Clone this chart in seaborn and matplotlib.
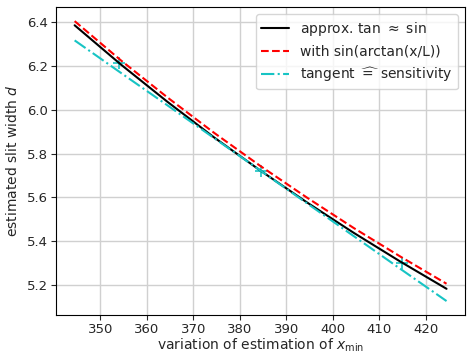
import matplotlib
matplotlib.use("Agg")
import matplotlib.pyplot as plt
import seaborn as sns
import pandas as pd

# values
x_vals = [344.5, 354.5, 364.5, 374.5, 384.5, 394.5, 404.5, 414.5, 424.5]
d_approx = [6.386, 6.206, 6.036, 5.874, 5.722, 5.577, 5.439, 5.308, 5.183]
d_arctan = [6.405, 6.225, 6.056, 5.895, 5.743, 5.599, 5.461, 5.331, 5.206]
d_tangent = [6.317, 6.168, 6.020, 5.871, 5.722, 5.573, 5.424, 5.275, 5.127]
marker_x = [354.0, 384.5, 415.0]
marker_y = [6.215, 5.722, 5.301]

labels = ["approx. tan $\\approx$ sin",
          "with sin(arctan(x/L))",
          "tangent $\\widehat{=}$ sensitivity"]

sns.set_style("ticks", {"axes.grid": True, "grid.color": "#d0d0d0",
                        "axes.edgecolor": "black"})
plt.rcParams['font.family'] = ['DejaVu Sans']
plt.rcParams['font.size'] = 10

fig = plt.figure(figsize=(4.67, 3.56), dpi=100)
ax = fig.add_axes([0.12, 0.115, 0.876, 0.865])

df = pd.DataFrame({"x": x_vals, "approx": d_approx,
                   "arctan": d_arctan, "tangent": d_tangent})

sns.lineplot(data=df, x="x", y="approx", ax=ax, color="black",
             linewidth=1.5, label=labels[0])
sns.lineplot(data=df, x="x", y="arctan", ax=ax, color="red",
             linewidth=1.5, linestyle="--", label=labels[1])
sns.lineplot(data=df, x="x", y="tangent", ax=ax, color="#17c4c4",
             linewidth=1.5, linestyle="-.", label=labels[2])
mdf = pd.DataFrame({"x": marker_x, "y": marker_y})
sns.scatterplot(data=mdf, x="x", y="y", ax=ax, marker="+", color="#17c4c4",
                s=80, linewidth=1.2, legend=False)

ax.set_xlabel("variation of estimation of $x_\\mathrm{min}$", fontsize=10, labelpad=0.5)
ax.set_ylabel("estimated slit width $d$", fontsize=10, labelpad=5)
ax.set_xticks([350, 360, 370, 380, 390, 400, 410, 420])
ax.set_yticks([5.2, 5.4, 5.6, 5.8, 6.0, 6.2, 6.4])
ax.tick_params(labelsize=9.5, length=3.5, pad=2.5)
ax.grid(True, color="#d0d0d0", linewidth=1)
ax.legend(loc="upper right", fontsize=10, framealpha=0.8)

fig.savefig("out.png", dpi=100)
